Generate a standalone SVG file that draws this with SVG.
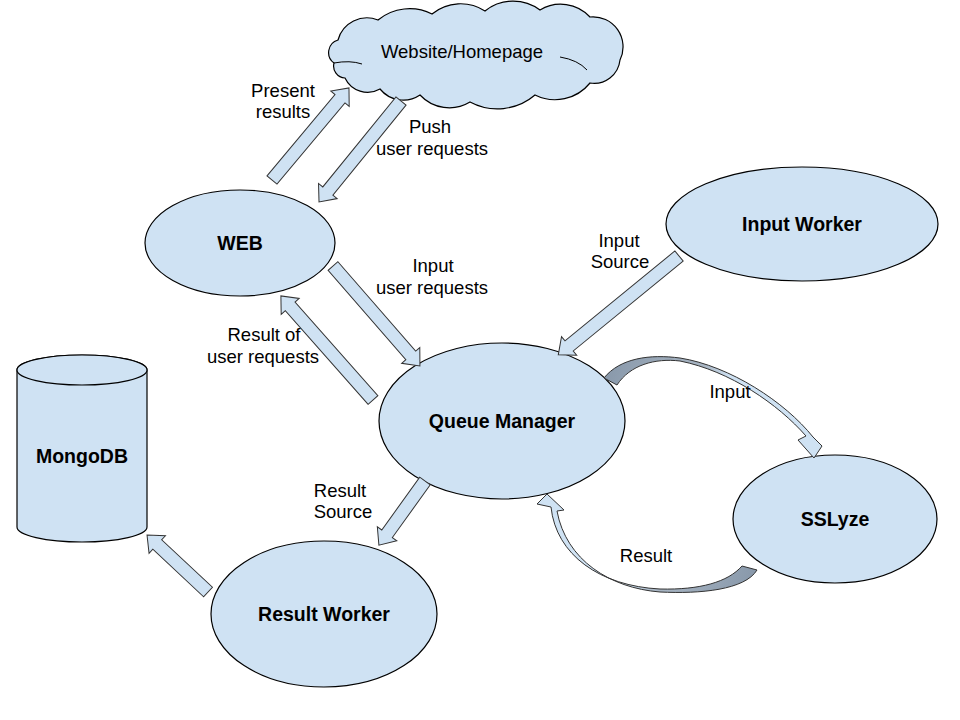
<svg xmlns="http://www.w3.org/2000/svg" width="960" height="720" viewBox="0 0 960 720">
<defs>
<style>
.node{fill:#cfe2f3;stroke:#000;stroke-width:1.2}
.inner{fill:none;stroke:#000;stroke-width:1}
.barrow{fill:#cfe2f3;stroke:#333;stroke-width:1}
.lbl{font-family:"Liberation Sans",Arial,sans-serif;font-size:18.5px;fill:#000;text-anchor:middle}
.bold{font-family:"Liberation Sans",Arial,sans-serif;font-size:19.5px;font-weight:bold;fill:#000;text-anchor:middle}
</style>
<linearGradient id="gIn" gradientUnits="userSpaceOnUse" x1="604" y1="370" x2="822" y2="450">
<stop offset="0" stop-color="#8898aa"/>
<stop offset="0.4" stop-color="#a9b6c4"/>
<stop offset="0.52" stop-color="#cfe2f3"/>
<stop offset="1" stop-color="#cfe2f3"/>
</linearGradient>
<linearGradient id="gRes" gradientUnits="userSpaceOnUse" x1="757" y1="575" x2="540" y2="500">
<stop offset="0" stop-color="#8898aa"/>
<stop offset="0.4" stop-color="#a9b6c4"/>
<stop offset="0.52" stop-color="#cfe2f3"/>
<stop offset="1" stop-color="#cfe2f3"/>
</linearGradient>
</defs>
<rect width="960" height="720" fill="#fff"/>

<g id="website">
<path class="node" d="M 334 63 A 13 13 0 0 1 338 40 A 30 30 0 0 1 378 20 A 50 50 0 0 1 432 14 A 45 45 0 0 1 485 11 A 45 45 0 0 1 540 10 A 40 40 0 0 1 590 17 A 30 30 0 0 1 620 60 A 26 26 0 0 1 590 83 A 45 45 0 0 1 535 95 A 58 58 0 0 1 470 102 A 40 40 0 0 1 420 95 A 30 30 0 0 1 380 89 A 25 25 0 0 1 345 78 A 12 12 0 0 1 334 63 Z"/>
<path class="inner" d="M 334 63 Q 350 60 362 64"/>
<path class="inner" d="M 560 57 Q 578 60 587 70"/>
<text class="lbl" x="462" y="58">Website/Homepage</text>
</g>

<g id="web">
<ellipse class="node" cx="240" cy="243" rx="95" ry="53"/>
<text class="bold" x="240" y="250">WEB</text>
</g>

<g id="input-worker">
<ellipse class="node" cx="802" cy="224" rx="136" ry="57"/>
<text class="bold" x="802" y="231">Input Worker</text>
</g>

<g id="queue-manager">
<ellipse class="node" cx="502" cy="421" rx="123" ry="78"/>
<text class="bold" x="502" y="428">Queue Manager</text>
</g>

<g id="sslyze">
<ellipse class="node" cx="835" cy="519" rx="102" ry="64"/>
<text class="bold" x="835" y="526">SSLyze</text>
</g>

<g id="result-worker">
<ellipse class="node" cx="324" cy="614" rx="113" ry="73"/>
<text class="bold" x="324" y="621">Result Worker</text>
</g>

<g id="mongodb">
<path class="node" d="M 17 370 L 17 527 A 65 15 0 0 0 147 527 L 147 370 A 65 15 0 0 0 17 370 Z"/>
<ellipse class="node" cx="82" cy="370" rx="65" ry="15"/>
<text class="bold" x="82" y="463">MongoDB</text>
</g>

<g id="connectors">
<polygon class="barrow" transform="translate(272,180) rotate(-50.1)" points="0,-6.5 106,-6.5 106,-12 120,0 106,12 106,6.5 0,6.5"/>
<polygon class="barrow" transform="translate(401,101) rotate(129.1)" points="0,-6.5 116,-6.5 116,-12 130,0 116,12 116,6.5 0,6.5"/>
<polygon class="barrow" transform="translate(333,266) rotate(49)" points="0,-6.5 118.5,-6.5 118.5,-12 132.5,0 118.5,12 118.5,6.5 0,6.5"/>
<polygon class="barrow" transform="translate(373,400) rotate(-131.5)" points="0,-6.5 125,-6.5 125,-12 139,0 125,12 125,6.5 0,6.5"/>
<polygon class="barrow" transform="translate(679,256) rotate(140.7)" points="0,-6.5 142,-6.5 142,-12 156,0 142,12 142,6.5 0,6.5"/>
<polygon class="barrow" transform="translate(425,481) rotate(125.7)" points="0,-6.5 65,-6.5 65,-12 79,0 65,12 65,6.5 0,6.5"/>
<polygon class="barrow" transform="translate(208,592) rotate(-136.9)" points="0,-6.5 69.5,-6.5 69.5,-12 83.5,0 69.5,12 69.5,6.5 0,6.5"/>
<path fill="url(#gIn)" stroke="#333" stroke-width="1" d="M 604 378 C 620 358, 650 354, 680 358 C 730 366, 785 402, 813 437 L 822 446 L 814 458 L 798 440 L 806 436 C 778 404, 730 371, 680 361 C 655 358, 630 365, 617 385 Z"/>
<path fill="url(#gRes)" stroke="#333" stroke-width="1" d="M 757 570 C 745 590, 700 594, 660 592 C 610 588, 566 560, 557 511 L 564 510 L 547 494 L 537 504 L 551 507 C 556 555, 600 586, 660 589 C 700 590, 728 582, 742 566 Z"/>
</g>

<g id="labels">
<text class="lbl" x="283" y="97">Present</text>
<text class="lbl" x="283" y="118">results</text>
<text class="lbl" x="430" y="133">Push</text>
<text class="lbl" x="432" y="155">user requests</text>
<text class="lbl" x="433" y="272">Input</text>
<text class="lbl" x="432" y="294">user requests</text>
<text class="lbl" x="264" y="341">Result of</text>
<text class="lbl" x="263" y="363">user requests</text>
<text class="lbl" x="619" y="247">Input</text>
<text class="lbl" x="620" y="268">Source</text>
<text class="lbl" x="730" y="398">Input</text>
<text class="lbl" x="646" y="562">Result</text>
<text class="lbl" x="340" y="497">Result</text>
<text class="lbl" x="343" y="518">Source</text>
</g>
</svg>
